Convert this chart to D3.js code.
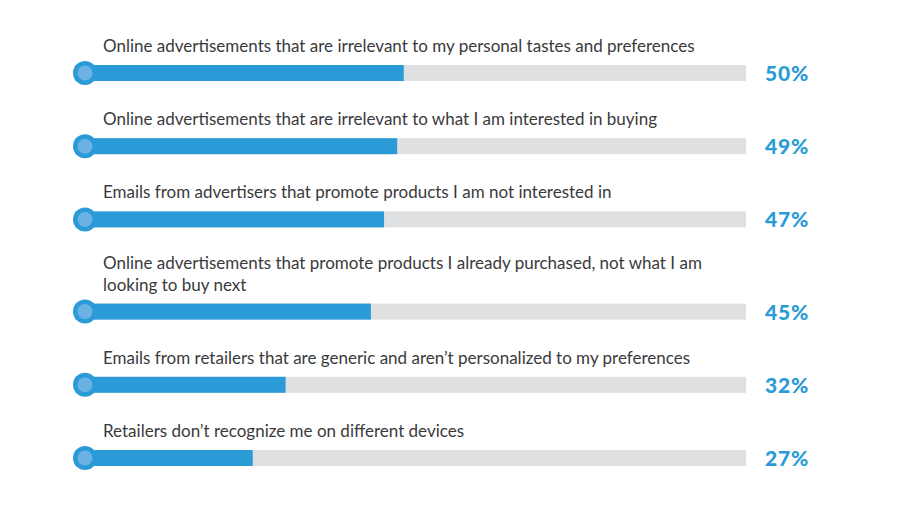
<!DOCTYPE html>
<html>
<head>
<meta charset="utf-8">
<script src="https://cdn.jsdelivr.net/npm/d3@7/dist/d3.min.js"></script>
<style>
  html, body { margin: 0; padding: 0; background: #fff; }
  svg { display: block; }
</style>
</head>
<body>
<svg id="chart" width="900" height="508"></svg>
<script>
const labels = [
  ["Online advertisements that are irrelevant to my personal tastes and preferences"],
  ["Online advertisements that are irrelevant to what I am interested in buying"],
  ["Emails from advertisers that promote products I am not interested in"],
  ["Online advertisements that promote products I already purchased, not what I am", "looking to buy next"],
  ["Emails from retailers that are generic and aren\u2019t personalized to my preferences"],
  ["Retailers don\u2019t recognize me on different devices"]
];
const values = [50, 49, 47, 45, 32, 27];

const svg = d3.select("#chart");
const x = d3.scaleLinear().domain([0, 100]).range([75.5, 732]);
const trackEnd = 746;
const barH = 16;
const rowStep = 73.2, extraLine = 19, lineH = 22;

// compute row centers
let centers = [];
let yc = 73;
labels.forEach((l, i) => {
  if (i > 0) yc += rowStep + (l.length - 1) * extraLine;
  centers.push(yc);
});

const g = svg.append("g");
labels.forEach((lines, i) => {
  const cy = centers[i];
  const row = g.append("g");
  const firstBase = cy - 21 - (lines.length - 1) * lineH;
  row.selectAll("text.lab").data(lines).enter().append("text")
    .attr("class", "lab")
    .attr("x", 103)
    .attr("y", (d, j) => firstBase + j * lineH)
    .attr("font-family", "Lato, 'Open Sans', sans-serif")
    .attr("font-size", 17)
    .attr("fill", "#3a3a3c")
    .text(d => d);
  row.append("rect")
    .attr("x", x(0)).attr("y", cy - barH / 2)
    .attr("width", trackEnd - x(0)).attr("height", barH)
    .attr("fill", "#dfe0e2");
  row.append("rect")
    .attr("x", x(0)).attr("y", cy - barH / 2)
    .attr("width", x(values[i]) - x(0)).attr("height", barH)
    .attr("fill", "#2b9bd8");
  row.append("circle")
    .attr("cx", 85).attr("cy", cy).attr("r", 12)
    .attr("fill", "#2b9bd8");
  row.append("circle")
    .attr("cx", 85).attr("cy", cy).attr("r", 7.5)
    .attr("fill", "#6cb1e3");
  row.append("text")
    .attr("x", 765).attr("y", cy + 8)
    .attr("font-family", "Lato, sans-serif")
    .attr("font-weight", 900)
    .attr("font-size", 21)
    .attr("letter-spacing", 0.8)
    .attr("fill", "#2b9bd8")
    .text(values[i] + "%");
});
</script>
</body>
</html>
